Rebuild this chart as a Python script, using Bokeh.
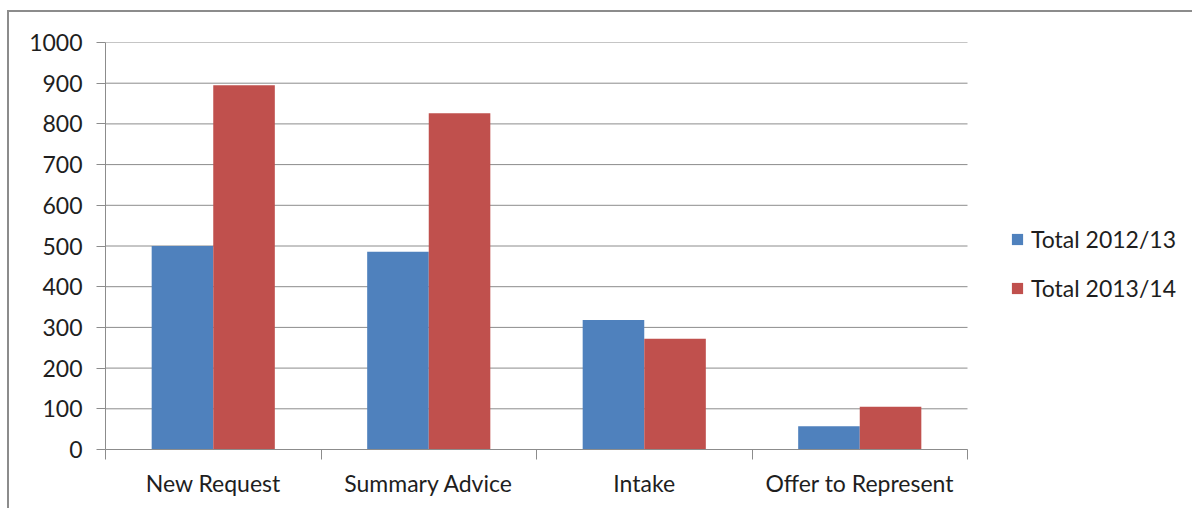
import numpy as np
from bokeh.plotting import figure
from bokeh.models import (Range1d, FixedTicker, CustomJSTickFormatter, Legend, LegendItem)
from bokeh.embed import file_html
from bokeh.resources import INLINE

categories = ["New Request", "Summary Advice", "Intake", "Offer to Represent"]
series_names = ["Total 2012/13", "Total 2013/14"]
values_2012 = [500, 486, 318, 57]
values_2013 = [895, 826, 272, 105]
y_ticks = [0, 100, 200, 300, 400, 500, 600, 700, 800, 900, 1000]
colors = ["#4F81BD", "#C0504D"]

FONT = "Lato"
GRID = "#8c8c8c"

# layout (pixels)
W, H = 1192, 508
PLOT_LEFT, PLOT_RIGHT, PLOT_TOP, PLOT_BOTTOM = 105, 967, 42, 449
RIGHT_PAD = 5
n = len(categories)
frame_w = W - RIGHT_PAD - PLOT_LEFT
x_end = n * frame_w / (PLOT_RIGHT - PLOT_LEFT)

p = figure(width=W, height=H, output_backend="svg", toolbar_location=None,
           x_range=Range1d(0, x_end), y_range=Range1d(0, 1000),
           min_border_left=PLOT_LEFT, min_border_right=RIGHT_PAD,
           min_border_top=PLOT_TOP, min_border_bottom=H - PLOT_BOTTOM)
p.outline_line_color = None
p.background_fill_color = "white"
p.border_fill_alpha = 0
p.styles = {
    "background-image": "linear-gradient(#8c8c8c, #8c8c8c), linear-gradient(#8c8c8c, #8c8c8c)",
    "background-size": "2px 100%, 100% 2px",
    "background-position": "7px 10px, 7px 10px",
    "background-repeat": "no-repeat",
}

# gridlines limited to the category area
p.ygrid.grid_line_color = None
p.xgrid.grid_line_color = None
p.segment(x0=[0] * len(y_ticks), x1=[n] * len(y_ticks), y0=y_ticks, y1=y_ticks,
          line_color=GRID, line_width=1)

centers = np.arange(n) + 0.5
w = 2.0 / 7.0
r1 = p.vbar(x=centers - w / 2, top=values_2012, width=w, bottom=0,
            fill_color=colors[0], line_color=None)
r2 = p.vbar(x=centers + w / 2, top=values_2013, width=w, bottom=0,
            fill_color=colors[1], line_color=None)

# y axis
p.yaxis.ticker = FixedTicker(ticks=y_ticks, minor_ticks=[])
p.yaxis.axis_line_color = GRID
p.yaxis.major_tick_line_color = GRID
p.yaxis.major_tick_out = 9
p.yaxis.major_tick_in = 0
p.yaxis.minor_tick_line_color = None
p.yaxis.major_label_text_font = FONT
p.yaxis.major_label_text_font_size = "23px"
p.yaxis.major_label_text_color = "#1e1e1e"
p.yaxis.major_label_standoff = 14

# x axis
p.xaxis.bounds = (0, n)
p.xaxis.ticker = FixedTicker(ticks=list(centers), minor_ticks=list(range(n + 1)))
p.xaxis.formatter = CustomJSTickFormatter(args=dict(names=categories),
                                          code="return names[Math.floor(tick)];")
p.xaxis.axis_line_color = GRID
p.xaxis.major_tick_line_color = None
p.xaxis.major_tick_out = 0
p.xaxis.major_tick_in = 0
p.xaxis.minor_tick_line_color = GRID
p.xaxis.minor_tick_out = 10
p.xaxis.minor_tick_in = 0
p.xaxis.major_label_text_font = FONT
p.xaxis.major_label_text_font_size = "23px"
p.xaxis.major_label_text_color = "#1e1e1e"
p.xaxis.major_label_standoff = 9

legend = Legend(items=[LegendItem(label=series_names[0], renderers=[r1]),
                       LegendItem(label=series_names[1], renderers=[r2])],
                location=(905, 147), orientation="vertical",
                glyph_width=14, glyph_height=14, label_height=28,
                spacing=21, padding=0, margin=0, label_standoff=7,
                label_text_font=FONT, label_text_font_size="23px",
                label_text_color="#1e1e1e",
                border_line_color=None, background_fill_alpha=0)
p.add_layout(legend, "center")

open("out.html", "w").write(file_html(p, INLINE))
